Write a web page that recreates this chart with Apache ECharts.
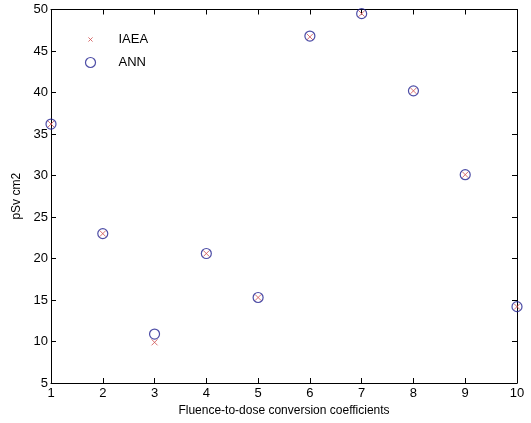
<!DOCTYPE html>
<html>
<head>
<meta charset="utf-8">
<script src="https://cdn.jsdelivr.net/npm/echarts@6/dist/echarts.min.js"></script>
<style>html,body{margin:0;padding:0;background:#fff;}#c{width:531px;height:423px;}</style>
</head>
<body>
<div id="c"></div>
<script>
const categories = [1, 2, 3, 4, 5, 6, 7, 8, 9, 10];
const iaea = [36.2, 23.0, 9.9, 20.6, 15.3, 46.7, 49.5, 40.2, 30.1, 14.2];
const ann  = [36.2, 23.0, 10.9, 20.6, 15.3, 46.8, 49.5, 40.2, 30.1, 14.2];
const xTicks = [1, 10, 1];
const yTicks = [5, 50, 5];

const font = 'Liberation Sans, Arial, sans-serif';
const chart = echarts.init(document.getElementById('c'), null, {renderer: 'canvas'});
const pairs = (ys) => categories.map((x, i) => [x, ys[i]]);
const axisLine = {show: true, onZero: false, lineStyle: {color: '#000', width: 1}};
const tick = {show: true, inside: true, length: 5, lineStyle: {color: '#000'}};
const xMark = 'path://M0,0L10,10M10,0L0,10';
const xMarkSmall = 'path://M0,0L0,0M12,12L12,12M3.5,3.5L8.5,8.5M8.5,3.5L3.5,8.5';
const red = '#d05050';
const blue = '#202090';

chart.setOption({
  animation: false,
  backgroundColor: '#fff',
  grid: {left: 51, right: 14, top: 9.5, bottom: 40, containLabel: false},
  legend: {
    orient: 'vertical', left: 78, top: 27, itemGap: 8, itemWidth: 10, itemHeight: 10,
    textStyle: {fontFamily: font, fontSize: 13, color: '#000', padding: [0, 0, 0, 18]},
    data: [
      {name: 'IAEA', icon: xMarkSmall, itemStyle: {color: 'none', borderColor: red, borderWidth: 1}},
      {name: 'ANN', icon: 'circle', itemStyle: {color: 'none', borderColor: blue, borderWidth: 1.2}}
    ]
  },
  xAxis: [
    {type: 'value', min: xTicks[0], max: xTicks[1], interval: xTicks[2], position: 'bottom',
     name: 'Fluence-to-dose conversion coefficients', nameLocation: 'middle', nameGap: 19,
     nameTextStyle: {fontFamily: font, fontSize: 12, color: '#000'},
     axisLine: axisLine, axisTick: tick, splitLine: {show: false},
     axisLabel: {fontFamily: font, fontSize: 13, color: '#000', margin: 4}},
    {type: 'value', min: xTicks[0], max: xTicks[1], interval: xTicks[2], position: 'top',
     axisLine: axisLine, axisTick: tick, splitLine: {show: false}, axisLabel: {show: false}}
  ],
  yAxis: [
    {type: 'value', min: yTicks[0], max: yTicks[1], interval: yTicks[2], position: 'left',
     name: 'pSv cm2', nameLocation: 'middle', nameGap: 28, nameRotate: 90,
     nameTextStyle: {fontFamily: font, fontSize: 12, color: '#000'},
     axisLine: axisLine, axisTick: tick, splitLine: {show: false},
     axisLabel: {fontFamily: font, fontSize: 13, color: '#000', margin: 3}},
    {type: 'value', min: yTicks[0], max: yTicks[1], interval: yTicks[2], position: 'right',
     axisLine: axisLine, axisTick: tick, splitLine: {show: false}, axisLabel: {show: false}}
  ],
  series: [
    {name: 'IAEA', type: 'scatter', data: pairs(iaea), symbol: xMark, symbolSize: 6,
     itemStyle: {color: 'none', borderColor: red, borderWidth: 1}, z: 2},
    {name: 'ANN', type: 'scatter', data: pairs(ann), symbol: 'circle', symbolSize: 10,
     itemStyle: {color: 'none', borderColor: blue, borderWidth: 1.2}, z: 3}
  ]
});
</script>
</body>
</html>
